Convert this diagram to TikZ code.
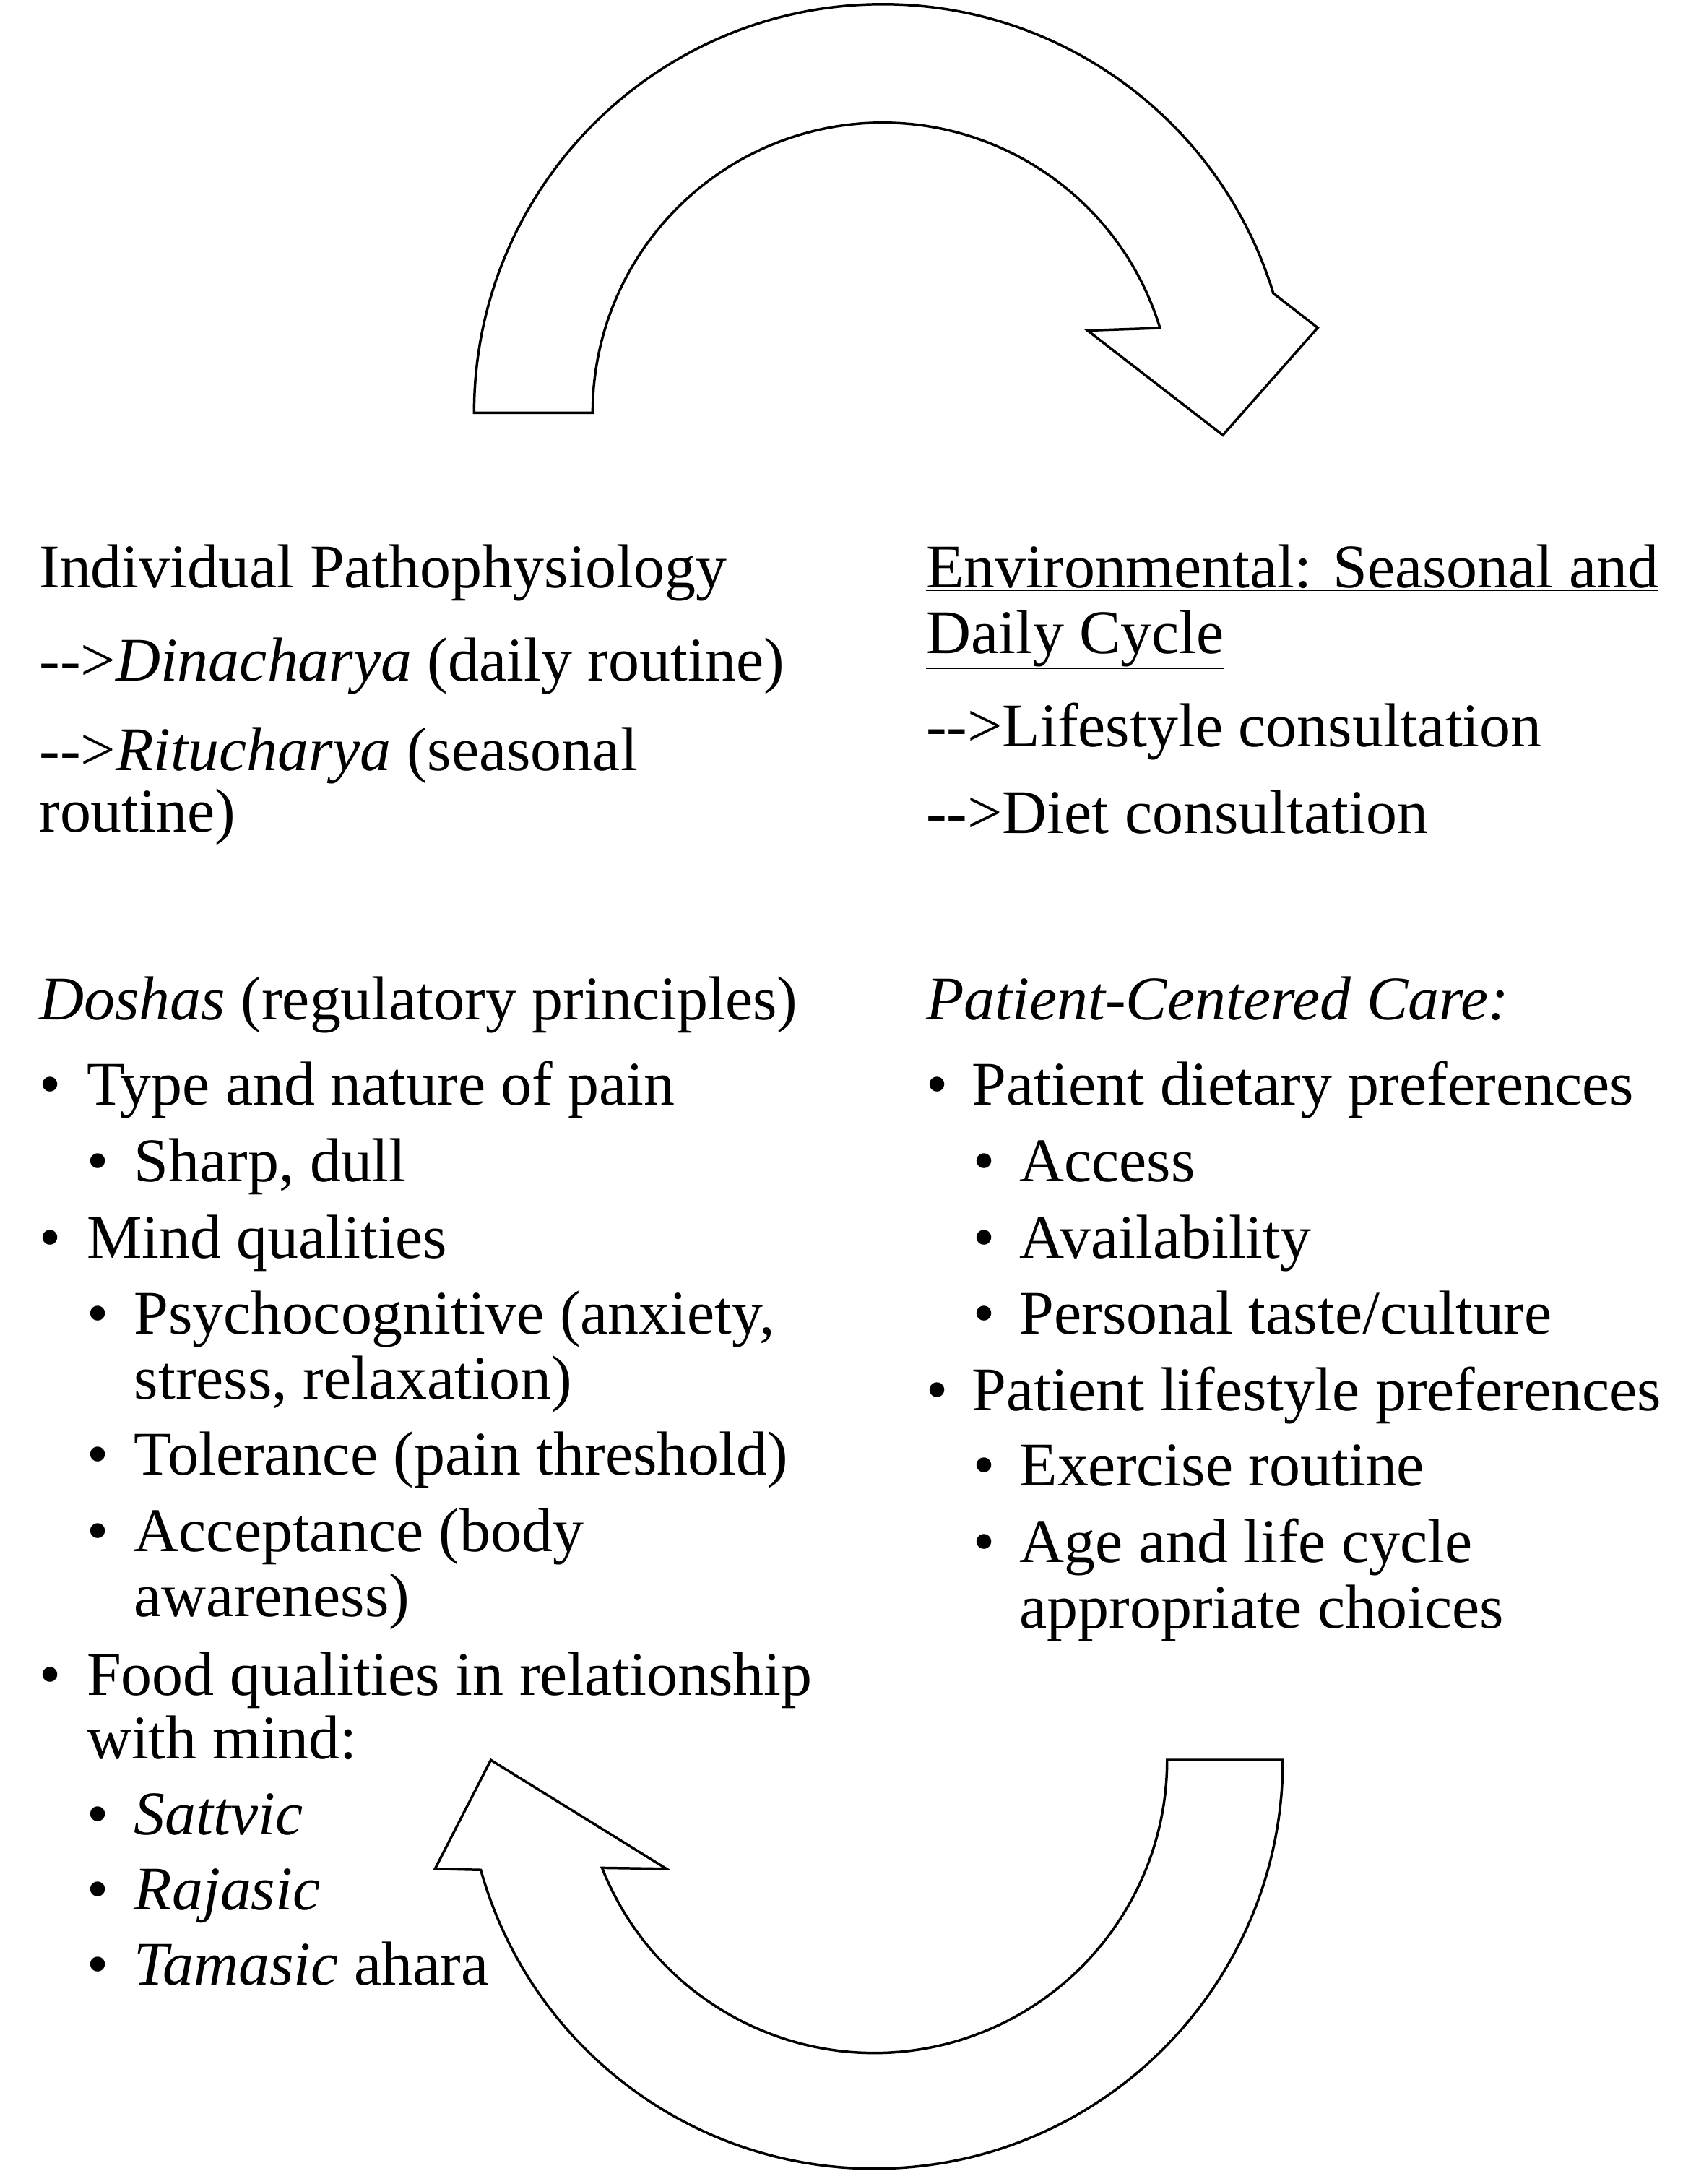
\documentclass[tikz,border=0pt]{standalone}
\usepackage{fontspec}
\setmainfont{Liberation Serif}
\begin{document}
\begin{tikzpicture}[x=1pt,y=-1pt,
  t/.style={anchor=mid west,inner sep=0pt,font=\fontsize{44.5}{52}\selectfont},
  arr/.style={draw=black,line width=1.8pt,fill=white,line join=miter}]
\useasboundingbox (0,0) rectangle (1216,1566);
% top arrow
\begin{scope}[shift={(633,296)},y=1pt]
\draw[arr] (180:293) arc[start angle=180,end angle=17,radius=293] -- (312,61) -- (244,-16) -- (147,59) -- (17:208) arc[start angle=17,end angle=180,radius=208] -- cycle;
\end{scope}
% bottom arrow
\begin{scope}[shift={(627,1262)},y=1pt]
\draw[arr] (0:293) arc[start angle=0,end angle=-164.4,radius=293] -- (-315,-78) -- (-275,0) -- (-149,-78) -- (-158.4:210) arc[start angle=-158.4,end angle=0,radius=210] -- cycle;
\end{scope}
\begin{scope}[yshift=-9pt]
% left column
\node[t] (l1) at (28,410) {\underline{Individual Pathophysiology}};
\node[t] (l2) at (28,477) {{-}{-}>\textit{Dinacharya} (daily routine)};
\node[t] (l3) at (28,541) {{-}{-}>\textit{Ritucharya} (seasonal};
\node[t] (l4) at (28,585) {routine)};
\node[t] (l5) at (28,720) {\textit{Doshas} (regulatory principles)};
\node[t] (b1) at (28,781) {•};  \node[t] (l6) at (62,781) {Type and nature of pain};
\node[t] (b2) at (62,836) {•};  \node[t] (l7) at (96,836) {Sharp, dull};
\node[t] (b3) at (28,891) {•};  \node[t] (l8) at (62,891) {Mind qualities};
\node[t] (b4) at (62,945) {•};  \node[t] (l9) at (96,945) {Psychocognitive (anxiety,};
\node[t] (l10) at (96,992) {stress, relaxation)};
\node[t] (b5) at (62,1046) {•}; \node[t] (l11) at (96,1046) {Tolerance (pain threshold)};
\node[t] (b6) at (62,1101) {•}; \node[t] (l12) at (96,1101) {Acceptance (body};
\node[t] (l13) at (96,1148) {awareness)};
\node[t] (b7) at (28,1204) {•}; \node[t] (l14) at (62,1204) {Food qualities in relationship};
\node[t] (l15) at (62,1250) {with mind:};
\node[t] (b8) at (62,1304) {•}; \node[t] (l16) at (96,1304) {\textit{Sattvic}};
\node[t] (b9) at (62,1358) {•}; \node[t] (l17) at (96,1358) {\textit{Rajasic}};
\node[t] (b10) at (62,1412) {•}; \node[t] (l18) at (96,1412) {\textit{Tamasic} ahara};
% right column
\node[t] (r1) at (664,410) {\underline{Environmental: Seasonal and}};
\node[t] (r2) at (664,457) {\underline{Daily Cycle}};
\node[t] (r3) at (664,524) {{-}{-}>Lifestyle consultation};
\node[t] (r4) at (664,586) {{-}{-}>Diet consultation};
\node[t] (r5) at (664,720) {\textit{Patient-Centered Care:}};
\node[t] (c1) at (664,781) {•}; \node[t] (r6) at (697,781) {Patient dietary preferences};
\node[t] (c2) at (698,836) {•}; \node[t] (r7) at (731,836) {Access};
\node[t] (c3) at (698,891) {•}; \node[t] (r8) at (731,891) {Availability};
\node[t] (c4) at (698,945) {•}; \node[t] (r9) at (731,945) {Personal taste/culture};
\node[t] (c5) at (664,1000) {•}; \node[t] (r10) at (697,1000) {Patient lifestyle preferences};
\node[t] (c6) at (698,1054) {•}; \node[t] (r11) at (731,1054) {Exercise routine};
\node[t] (c7) at (698,1109) {•}; \node[t] (r12) at (731,1109) {Age and life cycle};
\node[t] (r13) at (731,1156) {appropriate choices};
\end{scope}
\end{tikzpicture}
\end{document}
